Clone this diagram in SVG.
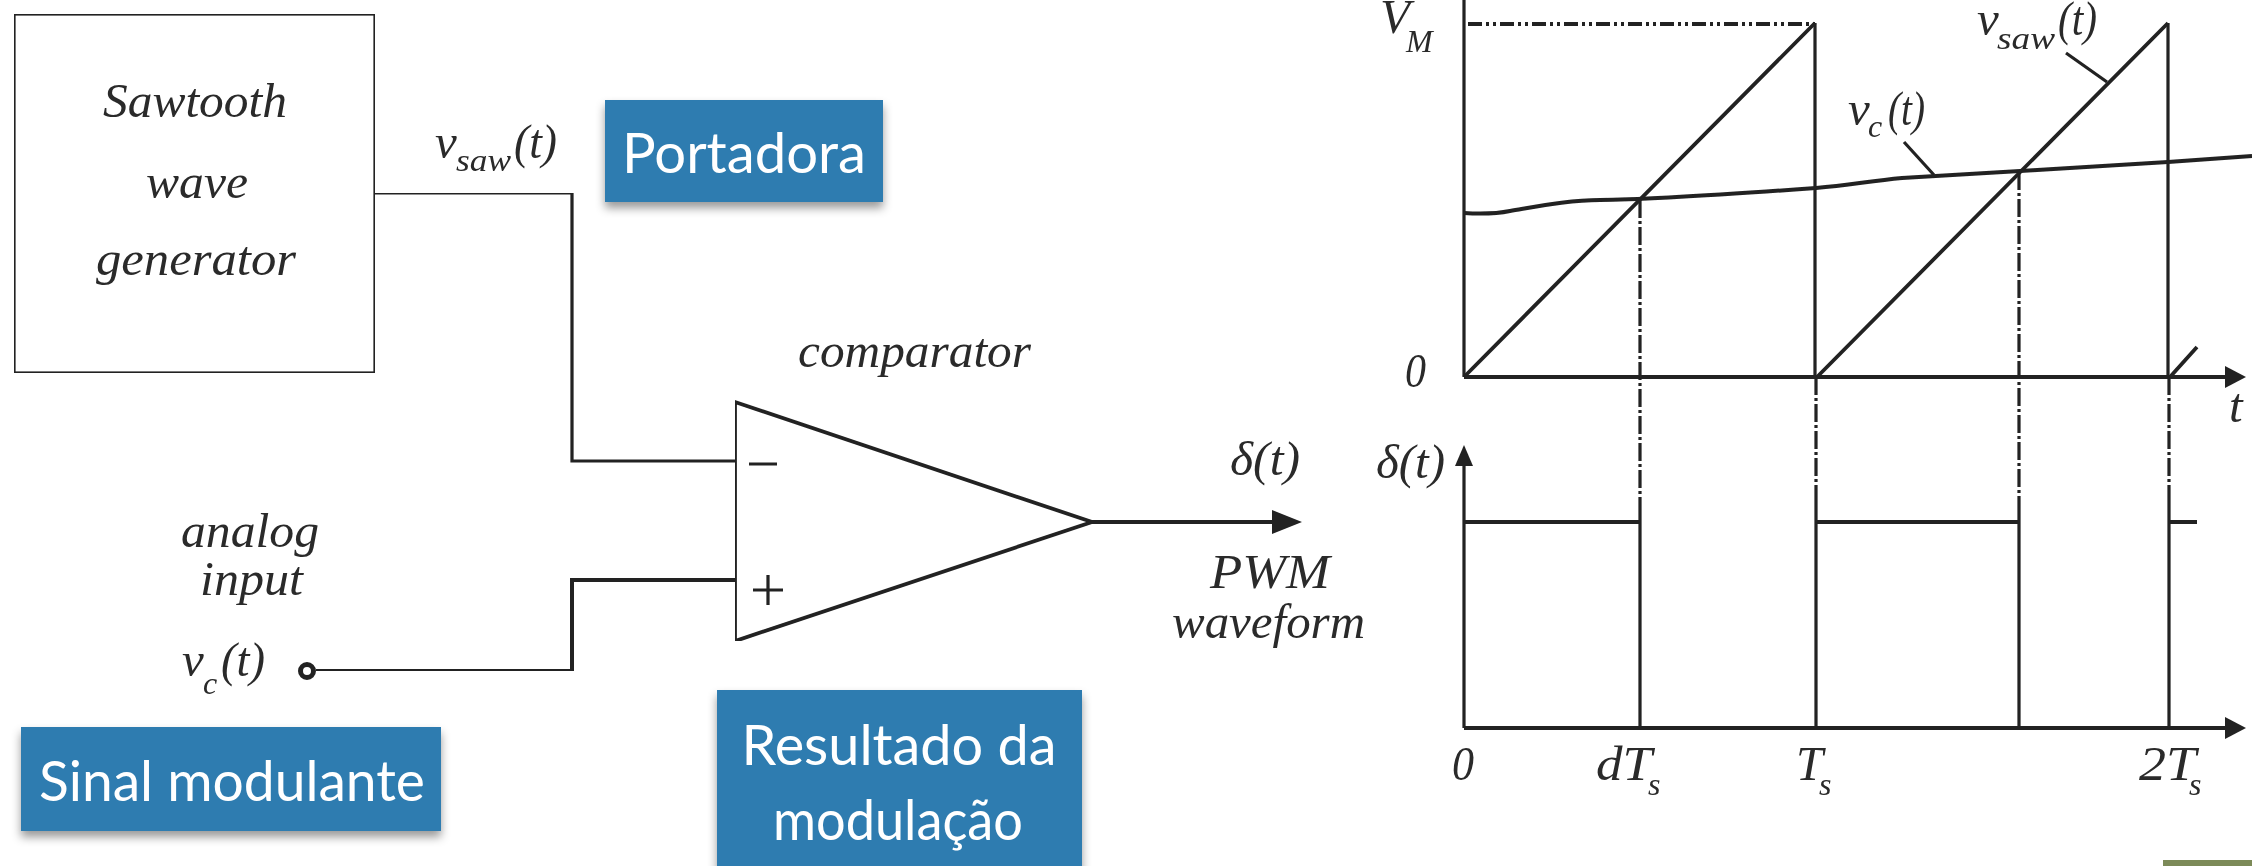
<svg xmlns="http://www.w3.org/2000/svg" width="2252" height="866" viewBox="0 0 2252 866">
<style>
.l{fill:none;stroke:#222;stroke-width:3.2}
.t{stroke-width:4}
.r{stroke-width:3.8}
.d{stroke-dasharray:14 4 3 4 3 4}
.e{stroke-dasharray:18 3 3 3}
.s{font-family:"Liberation Serif",serif;font-style:italic;fill:#2a2a2a;font-size:49px}
.sub{font-size:32px}
.w{font-family:"Lato","Noto Sans",sans-serif;fill:#fff;font-size:57px;text-anchor:middle}
.b{fill:#2f7cb0;filter:url(#sh)}
.a{fill:#222}
</style>
<defs>
<filter id="sh" x="-10%" y="-10%" width="120%" height="130%"><feDropShadow dx="0" dy="6" stdDeviation="5" flood-color="#000" flood-opacity=".4"/></filter>
<filter id="bl" x="0" y="0" width="100%" height="100%" filterUnits="objectBoundingBox"><feGaussianBlur stdDeviation=".7"/></filter>
</defs>
<rect width="2252" height="866" fill="#fff"/>
<g id="connectors" filter="url(#bl)">
<path class="l" d="M375 193H572V461H735"/>
<path class="l t" d="M316 671H572V580H735"/>
<path class="l t" d="M1092 522H1278"/>
<path class="a" d="M1272 510L1302 522L1272 534Z"/>
</g>
<g id="generator" filter="url(#bl)">
<rect class="l" x="14" y="14" width="361" height="359"/>
<text class="s" x="103" y="117" textLength="184" lengthAdjust="spacingAndGlyphs">Sawtooth</text>
<text class="s" x="146" y="198" textLength="102" lengthAdjust="spacingAndGlyphs">wave</text>
<text class="s" x="96" y="275" textLength="200" lengthAdjust="spacingAndGlyphs">generator</text>
</g>
<g id="comparator" filter="url(#bl)">
<path class="l r" d="M735 402L1092 522L735 641Z"/>
<path class="l" d="M749 464H777M768 575V605M753 590H783"/>
<text class="s" x="798" y="367" textLength="233" lengthAdjust="spacingAndGlyphs">comparator</text>
</g>
<g id="input" filter="url(#bl)">
<circle class="l" style="stroke-width:5" cx="307" cy="671" r="6.5"/>
<text class="s" x="181" y="547" textLength="138" lengthAdjust="spacingAndGlyphs">analog</text>
<text class="s" x="200" y="595" textLength="103" lengthAdjust="spacingAndGlyphs">input</text>
<text class="s" x="182" y="676">v</text><text class="s sub" x="203" y="694">c</text><text class="s" x="221" y="676" textLength="44" lengthAdjust="spacingAndGlyphs">(t)</text>
</g>
<g id="labels" filter="url(#bl)">
<text class="s" x="435" y="158">v</text><text class="s sub" x="456" y="171" textLength="55" lengthAdjust="spacingAndGlyphs">saw</text><text class="s" x="514" y="158" textLength="43" lengthAdjust="spacingAndGlyphs">(t)</text>
<text class="s" x="1230" y="475" textLength="70" lengthAdjust="spacingAndGlyphs">δ(t)</text>
<text class="s" x="1210" y="588" textLength="120" lengthAdjust="spacingAndGlyphs">PWM</text>
<text class="s" x="1172" y="638" textLength="193" lengthAdjust="spacingAndGlyphs">waveform</text>
</g>
<g id="chart" filter="url(#bl)">
<path class="l" d="M1464 0V377"/>
<path class="l t" d="M1464 377H2230"/>
<path class="a" d="M2225 366L2246 377L2225 388Z"/>
<path class="l d t" d="M1468 24H1815"/>
<path class="l r" d="M1464 377L1815 23M1817 377L2168 23M2170 377L2197 347"/>
<path class="l" d="M1815 23V377M2168 23V377"/>
<path class="l t" d="M1464 213C1480 214 1495 214 1510 211C1540 206 1570 200 1600 200C1640 200 1720 195 1816 188C1850 185 1870 181 1902 178L2020 171L2168 162L2252 156"/>
<path class="l" d="M2066 53L2107 82M1904 142L1934 175"/>
<path class="l e" d="M1640 200V503M1816 377V503M2019 172V503M2169 377V503"/>
<path class="l" d="M1640 503V728M1816 503V728M2019 503V728M2169 503V728"/>
<path class="l" d="M1464 460V728"/>
<path class="l t" d="M1464 728H2230"/>
<path class="a" d="M1455 466L1464 445L1473 466Z"/>
<path class="a" d="M2225 717L2246 728L2225 739Z"/>
<path class="l t" d="M1464 522H1640M1816 522H2019M2169 522H2197"/>
<text class="s" x="1380" y="33">V</text><text class="s sub" x="1406" y="52">M</text>
<text class="s" x="1405" y="387" textLength="21" lengthAdjust="spacingAndGlyphs">0</text>
<text class="s" x="1977" y="35">v</text><text class="s sub" x="1997" y="49" textLength="58" lengthAdjust="spacingAndGlyphs">saw</text><text class="s" x="2058" y="35" textLength="39" lengthAdjust="spacingAndGlyphs">(t)</text>
<text class="s" x="1848" y="125">v</text><text class="s sub" x="1868" y="137">c</text><text class="s" x="1888" y="125" textLength="37" lengthAdjust="spacingAndGlyphs">(t)</text>
<text class="s" x="2229" y="422">t</text>
<text class="s" x="1376" y="478" textLength="69" lengthAdjust="spacingAndGlyphs">δ(t)</text>
<text class="s" x="1452" y="780" textLength="22" lengthAdjust="spacingAndGlyphs">0</text>
<text class="s" x="1596" y="780" textLength="56" lengthAdjust="spacingAndGlyphs">dT</text><text class="s sub" x="1648" y="795">s</text>
<text class="s" x="1796" y="780" textLength="27" lengthAdjust="spacingAndGlyphs">T</text><text class="s sub" x="1819" y="795">s</text>
<text class="s" x="2139" y="780" textLength="57" lengthAdjust="spacingAndGlyphs">2T</text><text class="s sub" x="2189" y="795">s</text>
</g>
<g id="portadora"><rect class="b" x="605" y="100" width="278" height="102"/><text class="w" x="744" y="173" textLength="244" lengthAdjust="spacingAndGlyphs">Portadora</text></g>
<g id="sinal"><rect class="b" x="21" y="727" width="420" height="104"/><text class="w" x="232" y="801" textLength="386" lengthAdjust="spacingAndGlyphs">Sinal modulante</text></g>
<g id="resultado"><rect class="b" x="717" y="690" width="365" height="190"/><text class="w" x="899" y="765" textLength="315" lengthAdjust="spacingAndGlyphs">Resultado da</text><text class="w" x="898" y="840" textLength="250" lengthAdjust="spacingAndGlyphs">modulação</text></g>
<rect id="corner" x="2163" y="860" width="89" height="6" fill="#7c8a58"/>
</svg>
